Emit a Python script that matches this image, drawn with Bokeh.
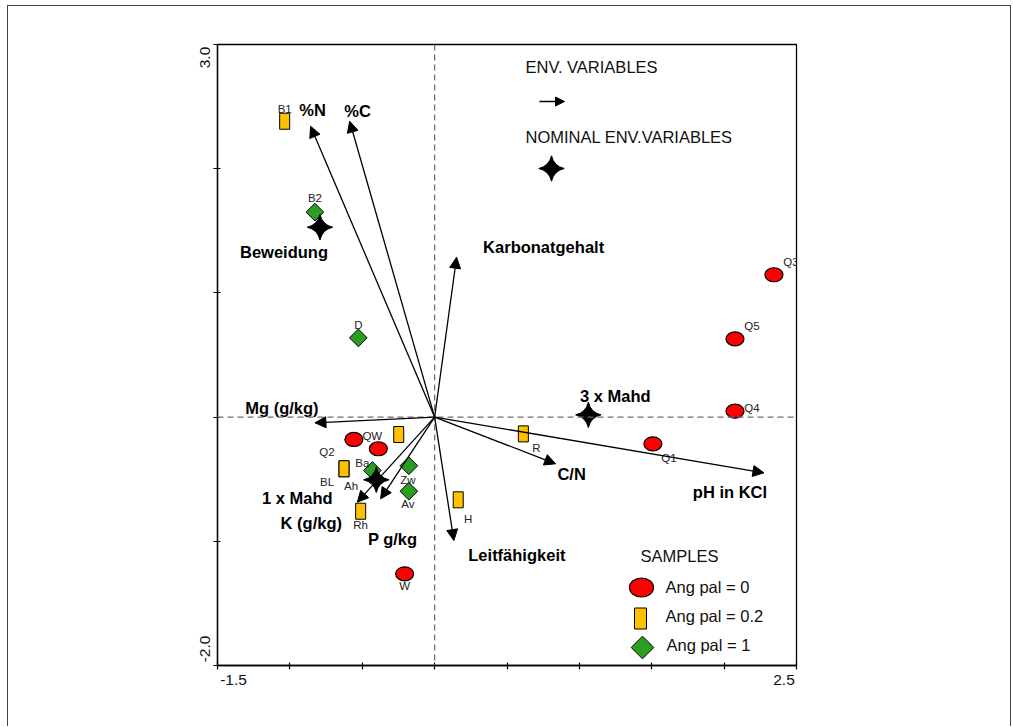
import math
from bokeh.plotting import figure
from bokeh.models import (Arrow, NormalHead, Span, FixedTicker, LinearAxis,
                          CustomJSTickFormatter)
from bokeh.core.properties import value
from bokeh.embed import file_html
from bokeh.resources import INLINE

# ---------------- data ----------------
env_names = ["%N", "%C", "Karbonatgehalt", "Mg (g/kg)", "pH in KCl", "C/N",
             "Leitfähigkeit", "K (g/kg)", "P g/kg"]
env_x = [-0.857, -0.587, 0.152, -0.827, 2.275, 0.836, 0.133, -0.534, -0.373]
env_y = [2.342, 2.382, 1.287, -0.046, -0.449, -0.376, -0.994, -0.685, -0.658]

nom_names = ["Beweidung", "3 x Mahd", "1 x Mahd"]
nom_x = [-0.792, 1.062, -0.403]
nom_y = [1.529, 0.018, -0.505]

s0_names = ["Q3", "Q5", "Q4", "Q1", "Q2", "QW", "W"]          # Ang pal = 0
s0_x = [2.344, 2.075, 2.075, 1.508, -0.558, -0.389, -0.207]
s0_y = [1.146, 0.630, 0.048, -0.215, -0.180, -0.255, -1.262]

s1_names = ["B1", "", "BL", "Ah", "Rh", "H", "R"]              # Ang pal = 0.2
s1_x = [-1.036, -0.248, -0.626, -0.626, -0.511, 0.163, 0.613]
s1_y = [2.382, -0.140, -0.416, -0.416, -0.758, -0.666, -0.135]

s2_names = ["B2", "D", "Ba", "Zw", "Av"]                       # Ang pal = 1
s2_x = [-0.827, -0.527, -0.430, -0.178, -0.178]
s2_y = [1.650, 0.638, -0.430, -0.392, -0.597]

x_ticks = [-1.5, -1.0, -0.5, 0.0, 0.5, 1.0, 1.5, 2.0, 2.5]
y_ticks = [-2.0, -1.0, 0.0, 1.0, 2.0, 3.0]
x_end_labels = ["-1.5", "2.5"]
y_end_labels = ["-2.0", "3.0"]

# ---------------- layout / style (pixels) ----------------
FW, FH = 579, 621
XMIN, XMAX, YMIN, YMAX = -1.5, 2.5, -2.0, 3.0
PX = FW / (XMAX - XMIN)
PY = FH / (YMAX - YMIN)

def dx(px):
    return px / PX

def dy(py):
    return -py / PY

def fx(px):  # frame pixel -> data x (frame left = 0)
    return XMIN + px / PX

def fy(py):  # frame pixel -> data y (frame top = 0)
    return YMAX - py / PY

env_off = [(2, -16), (8, -10), (87, -10), (-33, -15), (-34, 19), (16, 10),
           (63, 14), (-46, 21), (12, 40)]
nom_off = [(-36, 25), (27, -19), (-79, 18)]
s0_off = [(17, -13), (17, -13), (17, -3), (16, 14), (-27, 13), (-6, -13), (0, 12)]
s1_off = [(0, -12), (0, 0), (-17, 13), (7, 17), (0, 14), (10, 19), (13, 14)]
s2_off = [(0, -14), (0, -13), (-10, -8), (-1, 14), (-1, 13)]

FONT_NAME = "Liberation Sans"
FONT = value(FONT_NAME)
RED, ORANGE, GREEN = "#FF0000", "#FFC000", "#2A9E22"
BORDER = "1px solid #444444"
BIG = "16.5px"

p = figure(width=1004, height=721, x_range=(XMIN, XMAX), y_range=(YMIN, YMAX),
           output_backend="svg", toolbar_location=None,
           min_border_left=209, min_border_right=216,
           min_border_top=38, min_border_bottom=62,
           background_fill_color="white", border_fill_color="white",
           styles={"margin-left": "7px", "margin-top": "5px",
                   "border-top": BORDER, "border-left": BORDER,
                   "border-right": BORDER})
p.grid.visible = False
p.outline_line_color = "black"
p.outline_line_width = 1.3

p.xaxis.ticker = FixedTicker(ticks=x_ticks)
p.yaxis.ticker = FixedTicker(ticks=y_ticks)
for ax in (p.xaxis, p.yaxis):
    ax.axis_line_color = "black"
    ax.axis_line_width = 1.3
    ax.major_tick_line_color = "black"
    ax.major_tick_line_width = 1.2
    ax.major_tick_in = 3
    ax.major_tick_out = 4
    ax.minor_tick_line_color = None
    ax.major_label_text_font_size = "0px"
    ax.major_label_standoff = 0
p.xaxis.major_label_overrides = {t: "" for t in x_ticks}
p.yaxis.major_label_overrides = {t: "" for t in y_ticks}

# end tick labels: label-only axes, labels set beside the end ticks
x_lab_axis = LinearAxis(
    ticker=FixedTicker(ticks=[XMIN + dx(16), XMAX - dx(12.5)]),
    formatter=CustomJSTickFormatter(args=dict(labels=x_end_labels),
                                    code="return tick < 0 ? labels[0] : labels[1];"),
    axis_line_color=None, major_tick_line_color=None, minor_tick_line_color=None,
    major_tick_in=0, major_tick_out=0,
    major_label_standoff=5, major_label_text_font=FONT_NAME,
    major_label_text_font_size="15.5px", major_label_text_color="#111111")
p.add_layout(x_lab_axis, "below")

y_lab_axis = LinearAxis(
    ticker=FixedTicker(ticks=[YMIN + dy(-16.5), YMAX + dy(13)]),
    formatter=CustomJSTickFormatter(args=dict(labels=y_end_labels),
                                    code="return tick < 0 ? labels[0] : labels[1];"),
    axis_line_color=None, major_tick_line_color=None, minor_tick_line_color=None,
    major_tick_in=0, major_tick_out=0,
    major_label_standoff=4, major_label_orientation="vertical",
    major_label_text_font=FONT_NAME,
    major_label_text_font_size="15.5px", major_label_text_color="#111111")
p.add_layout(y_lab_axis, "left")

# dashed origin lines
for dim in ("height", "width"):
    p.add_layout(Span(location=0, dimension=dim, line_color="#6e6e6e",
                      line_dash="6 4", line_width=1.3))

# environmental variable arrows
for ex, ey in zip(env_x, env_y):
    p.add_layout(Arrow(end=NormalHead(size=11, fill_color="black", line_color="black"),
                       x_start=0, y_start=0, x_end=ex, y_end=ey,
                       line_color="black", line_width=1.3))

def offset_pts(xs, ys, offs):
    return ([x + dx(o[0]) for x, o in zip(xs, offs)],
            [y + dy(o[1]) for y, o in zip(ys, offs)])

lx, ly = offset_pts(env_x, env_y, env_off)
p.text(lx, ly, text=env_names, text_font=FONT, text_font_style="bold",
       text_font_size=BIG, text_align="center", text_baseline="middle",
       text_color="black")

# samples
p.ellipse(s0_x, s0_y, width=18, height=14, width_units="screen", height_units="screen",
          fill_color=RED, line_color="black", line_width=1.2)
p.rect(s1_x, s1_y, width=10, height=16, width_units="screen", height_units="screen",
       fill_color=ORANGE, line_color="black", line_width=1.0)
p.scatter(s2_x, s2_y, marker="square", size=12.5, angle=math.pi / 4,
          fill_color=GREEN, line_color="black", line_width=1.0)

for xs, ys, names, offs in ((s0_x, s0_y, s0_names, s0_off),
                            (s1_x, s1_y, s1_names, s1_off),
                            (s2_x, s2_y, s2_names, s2_off)):
    tx, ty = offset_pts(xs, ys, offs)
    p.text(tx, ty, text=names, text_font=FONT, text_font_size="11.5px",
           text_align="center", text_baseline="middle", text_color="#222222")

# nominal variables (stars)
p.scatter(nom_x, nom_y, marker="square_pin", size=18, angle=math.pi / 4,
          fill_color="black", line_color="black")
nx, ny = offset_pts(nom_x, nom_y, nom_off)
p.text(nx, ny, text=nom_names, text_font=FONT, text_font_style="bold",
       text_font_size=BIG, text_align="center", text_baseline="middle",
       text_color="black")

# ---------------- legends (frame pixel positions) ----------------
def ftext(px, py, txt, align="left"):
    p.text([fx(px)], [fy(py)], text=[txt], text_font=FONT, text_font_size=BIG,
           text_align=align, text_baseline="middle", text_color="#111111")

ftext(308, 22, "ENV. VARIABLES")
p.add_layout(Arrow(end=NormalHead(size=9, fill_color="black", line_color="black"),
                   x_start=fx(322), y_start=fy(57), x_end=fx(347), y_end=fy(57),
                   line_color="black", line_width=1.3))
ftext(308, 92, "NOMINAL ENV.VARIABLES")
p.scatter([fx(334)], [fy(124)], marker="square_pin", size=18, angle=math.pi / 4,
          fill_color="black", line_color="black")

ftext(423, 511, "SAMPLES")
p.ellipse([fx(424)], [fy(543)], width=24, height=19, width_units="screen",
          height_units="screen", fill_color=RED, line_color="black", line_width=1.2)
p.rect([fx(423)], [fy(574)], width=12, height=21, width_units="screen",
       height_units="screen", fill_color=ORANGE, line_color="black", line_width=1.0)
p.scatter([fx(425)], [fy(603)], marker="square", size=16, angle=math.pi / 4,
          fill_color=GREEN, line_color="black", line_width=1.0)
ftext(448, 542, "Ang pal = 0")
ftext(448, 571, "Ang pal = 0.2")
ftext(449, 600, "Ang pal = 1")

open("out.html", "w").write(file_html(p, INLINE))
